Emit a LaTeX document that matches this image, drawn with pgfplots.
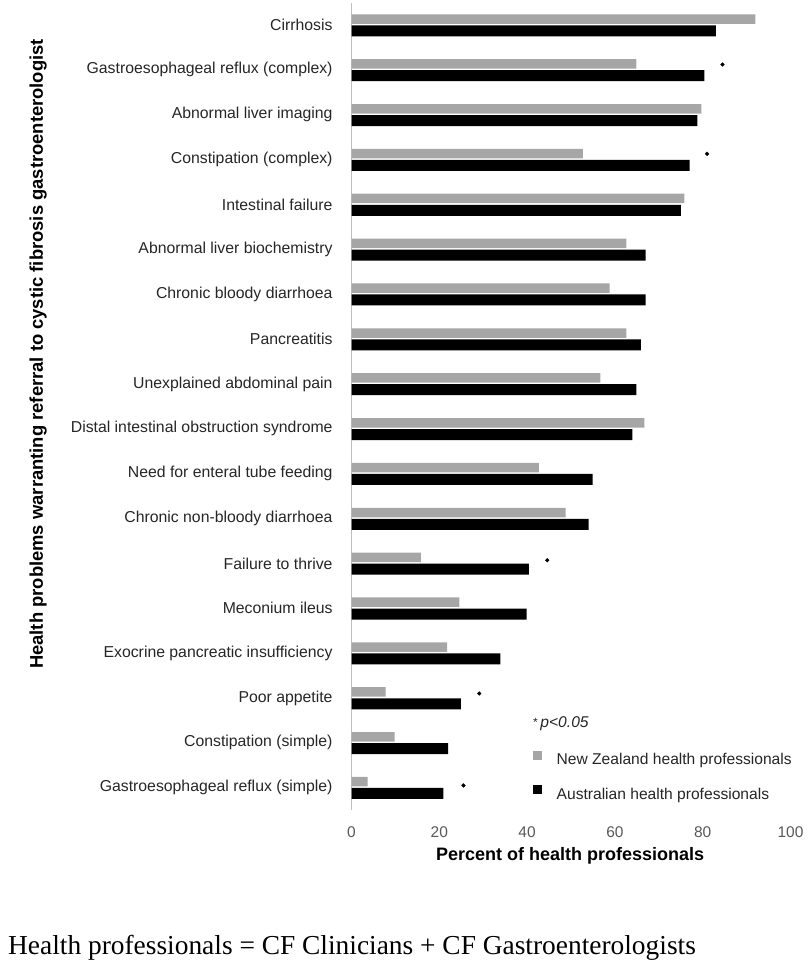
\documentclass[border=0pt]{standalone}
\usepackage{pgfplots}
\pgfplotsset{compat=1.18}
\usepackage{fontspec}
\setmainfont{Liberation Sans}
\newfontfamily\seriffont{Liberation Serif}
\definecolor{nzgray}{HTML}{A6A6A6}
\definecolor{ticktxt}{HTML}{595959}
\definecolor{axgray}{HTML}{BFBFBF}
\begin{document}
\begin{tikzpicture}
\useasboundingbox (0,0) rectangle (810bp,975bp);
\begin{axis}[
  at={(351.5bp,164.9bp)}, anchor=south west,
  scale only axis, width=439bp, height=807.5bp,
  xmin=0, xmax=100, ymin=-0.5, ymax=17.5,
  y dir=reverse,
  axis y line*=left, axis x line*=bottom,
  x axis line style={draw=none},
  y axis line style={draw=axgray, line width=1bp},
  xtick={0,20,...,100},
  xtick style={draw=none},
  ytick={0,...,17},
  ytick style={draw=none},
  minor ytick={-0.5,0.5,...,17.5},
  minor tick length=5bp,
  tick align=outside,
  minor tick style={draw=axgray, line width=1bp},
  /pgf/number format/assume math mode=true,
  xticklabel style={font=\fontsize{15.5bp}{18bp}\selectfont, text=ticktxt, anchor=north, inner sep=0pt, yshift=-12bp},
  yticklabel style={font=\fontsize{15.8bp}{18bp}\selectfont, text=black!85, anchor=east, inner sep=0pt, xshift=-14.5bp},
  yticklabels={Cirrhosis, Gastroesophageal reflux (complex), Abnormal liver imaging, Constipation (complex), Intestinal failure, Abnormal liver biochemistry, Chronic bloody diarrhoea, Pancreatitis, Unexplained abdominal pain, Distal intestinal obstruction syndrome, Need for enteral tube feeding, Chronic non-bloody diarrhoea, Failure to thrive, Meconium ileus, Exocrine pancreatic insufficiency, Poor appetite, Constipation (simple), Gastroesophageal reflux (simple)},
  xlabel={Percent of health professionals},
  ylabel={Health problems warranting referral to cystic fibrosis gastroenterologist},
  every axis x label/.style={at={(axis description cs:0.498,-0.0618)}, anchor=base, font=\fontsize{18bp}{21bp}\selectfont\bfseries},
  every axis y label/.style={at={(axis description cs:-0.714,0.5648)}, rotate=90, anchor=center, font=\fontsize{18.4bp}{21bp}\selectfont\bfseries},
  legend style={at={(axis description cs:0.4123,0.0738)}, anchor=north west, draw=none, fill=none, inner sep=0pt,
    font=\fontsize{15.6bp}{18bp}\selectfont, text=black!85,
    nodes={inner sep=0pt, text height=11bp, text depth=3bp},
    row sep=17.5bp,
    /tikz/every odd column/.append style={column sep=15bp}},
  legend cell align=left,
]
\addplot[xbar, bar width=9.5bp, bar shift=6bp, fill=nzgray, draw=none,
  legend image code/.code={\fill[nzgray] (0bp,1bp) rectangle (9bp,10bp);}]
  coordinates {(92,0) (64.9,1) (79.7,2) (52.7,3) (75.8,4) (62.6,5) (58.8,6) (62.6,7) (56.7,8) (66.7,9) (42.7,10) (48.8,11) (15.8,12) (24.6,13) (21.8,14) (7.8,15) (9.8,16) (3.7,17)};
\addlegendentry{New Zealand health professionals}
\addplot[xbar, bar width=11bp, bar shift=-5.8bp, fill=black, draw=none,
  legend image code/.code={\fill[black] (0bp,1bp) rectangle (9bp,10bp);}]
  coordinates {(83,0) (80.4,1) (78.8,2) (77,3) (75,4) (67,5) (67,6) (65.9,7) (64.9,8) (64,9) (54.9,10) (54,11) (40.4,12) (39.9,13) (33.9,14) (24.9,15) (22,16) (20.9,17)};
\addlegendentry{Australian health professionals}
\addplot[only marks, mark=*, mark size=1.9bp, black, forget plot]
  coordinates {(84.5,0.88) (81,2.87) (44.6,11.93) (29.1,14.9) (25.5,16.95)};
\node[anchor=base west, inner sep=0pt, font=\fontsize{15.6bp}{18bp}\selectfont, text=black!85] at (axis description cs:0.4134,0.1017) {{\fontsize{12bp}{12bp}\selectfont\raisebox{1bp}{*}}\,\textit{p<0.05}};
\end{axis}
\node[anchor=base west, inner sep=0pt, font=\seriffont\fontsize{27.4bp}{32bp}\selectfont] at (8bp,21bp) {Health professionals = CF Clinicians + CF Gastroenterologists};
\end{tikzpicture}
\end{document}
